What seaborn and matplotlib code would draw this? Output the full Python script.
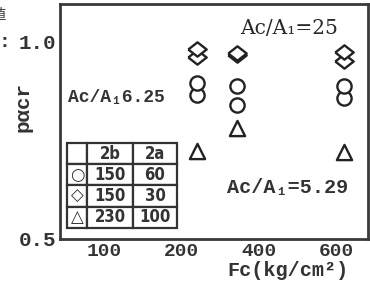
import numpy as np
import pandas as pd
import matplotlib
matplotlib.use("Agg")
import matplotlib.pyplot as plt
import seaborn as sns

# data
fc_circle = [240, 240, 345, 345, 620, 620]
p_circle = [0.866, 0.896, 0.839, 0.889, 0.857, 0.887]
fc_diamond = [240, 240, 345, 345, 620, 620]
p_diamond = [0.962, 0.982, 0.966, 0.971, 0.952, 0.975]
fc_triangle = [240, 345, 620]
p_triangle = [0.722, 0.781, 0.720]

x_ticks = [100, 200, 400, 600]
y_ticks = [0.5, 0.6, 0.7, 0.8, 0.9, 1.0]
table_rows = [["", "2b", "2a"], ["○", "150", "60"], ["◇", "150", "30"], ["△", "230", "100"]]

sns.set_style("white")
plt.rcParams["font.family"] = ["Liberation Mono", "DejaVu Sans"]

fig = plt.figure(figsize=(3.7, 2.9), dpi=100)
ax = fig.add_axes([0.162, 0.176, 0.833, 0.81])

# the axis of the original is not linear: ticks 100,200,400,600 are evenly spaced
knots_d = [0, 100, 200, 400, 600, 800]
knots_p = [0, 1, 2, 3, 4, 5]
ax.set_xscale("function", functions=(lambda x: np.interp(x, knots_d, knots_p),
                                      lambda p: np.interp(p, knots_p, knots_d)))

wide_diamond = [(-1, 0), (0, 0.78), (1, 0), (0, -0.78), (-1, 0)]

kw = dict(color="white", edgecolor="#222222", linewidth=1.7, ax=ax, legend=False, zorder=3)
sns.scatterplot(x=fc_circle, y=p_circle, marker="o", s=105, **kw)
sns.scatterplot(x=fc_triangle, y=p_triangle, marker="^", s=120, **kw)
sns.scatterplot(x=fc_diamond, y=p_diamond, marker=wide_diamond, s=175, **kw)

ax.set_xlim(43, 683)
ax.set_ylim(0.5, 1.096)
ax.set_xticks(x_ticks)
ax.set_yticks(y_ticks)
ax.set_yticklabels(["0.5", "", "", "", "", "1.0"])
ax.set_xticklabels([str(v) for v in x_ticks])
ax.tick_params(axis="both", direction="in", length=6, width=1.8, pad=3, colors="#333333")
ax.tick_params(axis="y", labelsize=15)
ax.tick_params(axis="x", labelsize=14)
for lab in ax.get_xticklabels() + ax.get_yticklabels():
    lab.set_fontweight("bold")
for side in ["top", "bottom", "left", "right"]:
    ax.spines[side].set(lw=2.0, color="#3a3a3a")

ax.set_xlabel("Fc(kg/cm²)", fontsize=14.5, fontweight="bold", color="#333333")
ax.xaxis.set_label_coords(0.74, -0.095)
ax.set_ylabel("pαcr", fontsize=15, fontweight="bold", color="#333333")
ax.yaxis.set_label_coords(-0.09, 0.56)

ax.text(0.744, 0.898, "Ac/A₁=25", transform=ax.transAxes, ha="center", va="center",
        fontsize=14.5, family=["DejaVu Serif"], color="#2a2a2a")
ax.text(0.182, 0.604, "Ac/A₁6.25", transform=ax.transAxes, ha="center", va="center",
        fontsize=13, fontweight="bold", color="#333333")
ax.text(0.74, 0.217, "Ac/A₁=5.29", transform=ax.transAxes, ha="center", va="center",
        fontsize=14.5, fontweight="bold", color="#333333")

tab = ax.table(cellText=table_rows, bbox=[0.023, 0.047, 0.357, 0.362], cellLoc="center",
               colWidths=[0.18, 0.42, 0.40])
tab.auto_set_font_size(False)
for (r, c), cell in tab.get_celld().items():
    cell.set_linewidth(1.6)
    cell.set_edgecolor("#333333")
    cell.set_facecolor("white")
    t = cell.get_text()
    t.set_fontsize(12)
    t.set_color("#333333")
    t.set_family(["DejaVu Sans"])
    t.set_fontweight("bold")
    if c > 0:
        t.set_fontstretch("condensed")

# cut-off fragments at the left edge of the scan
fig.text(-0.025, 0.975, "値", family=["Noto Sans CJK JP"], fontsize=11, color="#444444",
         ha="left", va="top")
fig.text(-0.004, 0.855, ":", fontsize=14, fontweight="bold", color="#333333",
         ha="left", va="center")

fig.savefig("out.png", dpi=100)
